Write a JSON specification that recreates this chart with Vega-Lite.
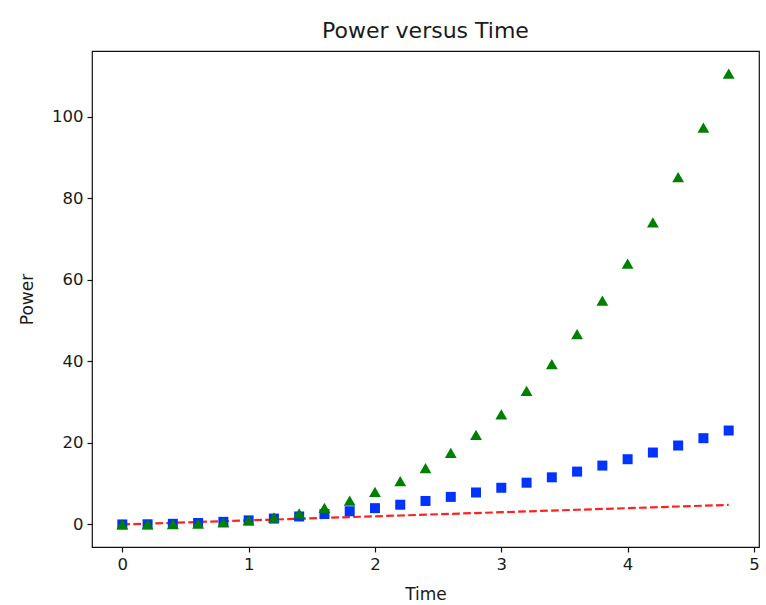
{
  "$schema": "https://vega.github.io/schema/vega-lite/v6.json",
  "width": 667,
  "height": 496,
  "autosize": {"type": "none"},
  "padding": {"left": 92, "top": 51, "right": 7, "bottom": 58},
  "background": "white",
  "config": {
    "font": "DejaVu Sans",
    "view": {"stroke": "#111", "strokeWidth": 1.2},
    "axis": {
      "grid": false,
      "domain": false,
      "tickColor": "#111",
      "tickSize": 5,
      "tickWidth": 1.2,
      "labelFont": "DejaVu Sans",
      "labelFontSize": 16.5,
      "labelColor": "#1a1a1a",
      "labelPadding": 4,
      "titleFont": "DejaVu Sans",
      "titleFontSize": 17,
      "titleFontWeight": "normal",
      "titleColor": "#1a1a1a"
    },
    "title": {"font": "DejaVu Sans", "fontSize": 22, "fontWeight": "normal", "color": "#1a1a1a", "offset": 8}
  },
  "title": {"text": "Power versus Time", "anchor": "middle"},
  "data": {"values": [
    {"t": 0.0, "linear": 0.0, "square": 0.0, "cube": 0.0},
    {"t": 0.2, "linear": 0.2, "square": 0.04, "cube": 0.008},
    {"t": 0.4, "linear": 0.4, "square": 0.16, "cube": 0.064},
    {"t": 0.6, "linear": 0.6, "square": 0.36, "cube": 0.216},
    {"t": 0.8, "linear": 0.8, "square": 0.64, "cube": 0.512},
    {"t": 1.0, "linear": 1.0, "square": 1.0, "cube": 1.0},
    {"t": 1.2, "linear": 1.2, "square": 1.44, "cube": 1.728},
    {"t": 1.4, "linear": 1.4, "square": 1.96, "cube": 2.744},
    {"t": 1.6, "linear": 1.6, "square": 2.56, "cube": 4.096},
    {"t": 1.8, "linear": 1.8, "square": 3.24, "cube": 5.832},
    {"t": 2.0, "linear": 2.0, "square": 4.0, "cube": 8.0},
    {"t": 2.2, "linear": 2.2, "square": 4.84, "cube": 10.648},
    {"t": 2.4, "linear": 2.4, "square": 5.76, "cube": 13.824},
    {"t": 2.6, "linear": 2.6, "square": 6.76, "cube": 17.576},
    {"t": 2.8, "linear": 2.8, "square": 7.84, "cube": 21.952},
    {"t": 3.0, "linear": 3.0, "square": 9.0, "cube": 27.0},
    {"t": 3.2, "linear": 3.2, "square": 10.24, "cube": 32.768},
    {"t": 3.4, "linear": 3.4, "square": 11.56, "cube": 39.304},
    {"t": 3.6, "linear": 3.6, "square": 12.96, "cube": 46.656},
    {"t": 3.8, "linear": 3.8, "square": 14.44, "cube": 54.872},
    {"t": 4.0, "linear": 4.0, "square": 16.0, "cube": 64.0},
    {"t": 4.2, "linear": 4.2, "square": 17.64, "cube": 74.088},
    {"t": 4.4, "linear": 4.4, "square": 19.36, "cube": 85.184},
    {"t": 4.6, "linear": 4.6, "square": 21.16, "cube": 97.336},
    {"t": 4.8, "linear": 4.8, "square": 23.04, "cube": 110.592}
  ]},
  "encoding": {
    "x": {
      "field": "t", "type": "quantitative",
      "scale": {"domain": [-0.24, 5.04], "nice": false, "zero": false},
      "axis": {"title": "Time", "values": [0, 1, 2, 3, 4, 5], "format": "d", "titlePadding": 14}
    }
  },
  "layer": [
    {
      "mark": {"type": "line", "color": "#ff2020", "strokeWidth": 2.2, "strokeDash": [7.7, 3.3]},
      "encoding": {
        "y": {
          "field": "linear", "type": "quantitative",
          "scale": {"domain": [-5.53, 116.12], "nice": false, "zero": false},
          "axis": {"title": "Power", "values": [0, 20, 40, 60, 80, 100], "format": "d", "titlePadding": 15}
        }
      }
    },
    {
      "mark": {"type": "point", "shape": "square", "filled": true, "color": "#0033ff", "opacity": 1, "size": 100},
      "encoding": {"y": {"field": "square", "type": "quantitative"}}
    },
    {
      "mark": {"type": "point", "shape": "triangle-up", "filled": true, "color": "#008000", "opacity": 1, "size": 140},
      "encoding": {"y": {"field": "cube", "type": "quantitative"}}
    }
  ]
}
